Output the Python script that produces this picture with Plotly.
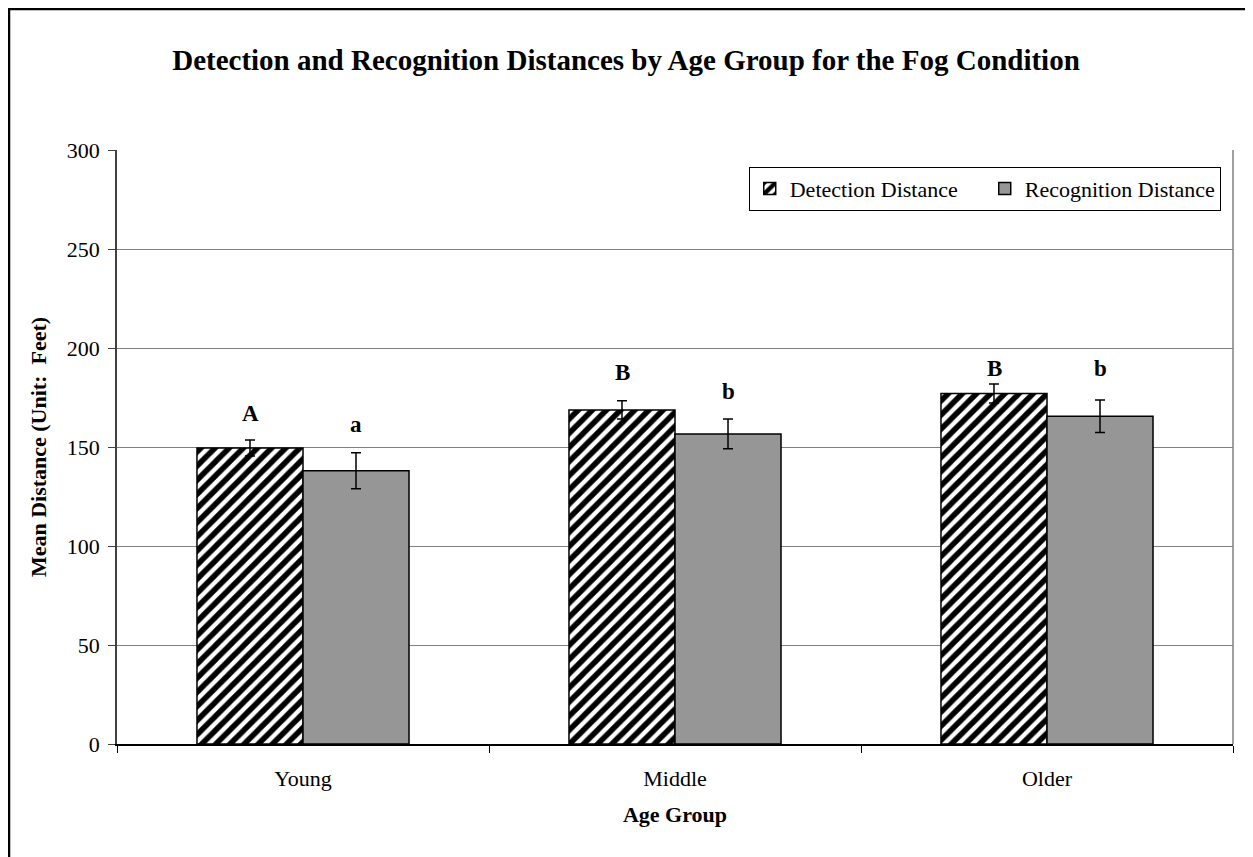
import plotly.graph_objects as go

groups = ["Young", "Middle", "Older"]
detection = [149.5, 168.7, 177.0]
detection_err = [4.0, 4.6, 4.8]
recognition = [138.0, 156.6, 165.5]
recognition_err = [9.1, 7.5, 8.2]
det_letters = ["A", "B", "B"]
rec_letters = ["a", "b", "b"]
det_letter_y = [166.7, 187.4, 189.9]
rec_letter_y = [161.6, 177.8, 189.9]

FONT = "Liberation Serif, Times New Roman, serif"

# page body has an 8px offset; margins compensate
ML, MR, MT, MB = 109, 28, 142, 121
PW, PH = 1253 - ML - MR, 857 - MT - MB

fig = go.Figure()
fig.add_trace(go.Bar(
    name="Detection Distance", x=groups, y=detection,
    marker=dict(color="white", line=dict(color="black", width=1.5),
                pattern=dict(shape="/", fgcolor="black", bgcolor="white", fgopacity=1,
                             size=10, solidity=0.55)),
    error_y=dict(type="data", array=detection_err, color="black", thickness=1.5, width=5),
))
fig.add_trace(go.Bar(
    name="Recognition Distance", x=groups, y=recognition,
    marker=dict(color="#969696", line=dict(color="black", width=1.5)),
    error_y=dict(type="data", array=recognition_err, color="black", thickness=1.5, width=5),
))

for g, t, yv in zip(groups, det_letters, det_letter_y):
    fig.add_annotation(x=g, y=yv, text=f"<b>{t}</b>", showarrow=False, xshift=-53,
                       font=dict(family=FONT, size=23, color="black"))
for g, t, yv in zip(groups, rec_letters, rec_letter_y):
    fig.add_annotation(x=g, y=yv, text=f"<b>{t}</b>", showarrow=False, xshift=53,
                       font=dict(family=FONT, size=23, color="black"))

# outer frame
fig.add_shape(type="rect", xref="paper", yref="paper",
              x0=-(ML - 1) / PW, x1=1.1, y0=-0.3, y1=1 + (MT - 1) / PH,
              line=dict(color="black", width=2.5), fillcolor="rgba(0,0,0,0)", layer="above")
# plot area right border
fig.add_shape(type="line", xref="paper", yref="paper", x0=1, x1=1, y0=0, y1=1,
              line=dict(color="#808080", width=1.5))

fig.update_layout(
    width=1253, height=857,
    margin=dict(l=ML, r=MR, t=MT, b=MB),
    paper_bgcolor="white", plot_bgcolor="white",
    barmode="group", bargap=0.43, bargroupgap=0,
    font=dict(family=FONT, size=22, color="black"),
    title=dict(text="<b>Detection and Recognition Distances by Age Group for the Fog Condition</b>",
               x=(ML + PW / 2 - 49) / 1253, xref="container", xanchor="center",
               y=1 - 52 / 857, yref="container", yanchor="middle",
               font=dict(family=FONT, size=29, color="black")),
    showlegend=True,
    legend=dict(orientation="h", x=0.989, xanchor="right", y=0.972, yanchor="top",
                bordercolor="black", borderwidth=1, bgcolor="white",
                font=dict(family=FONT, size=22, color="black"),
                itemwidth=30, entrywidth=190, entrywidthmode="pixels", traceorder="normal"),
    xaxis=dict(showline=True, linecolor="black", linewidth=1.5, ticks="outside",
               ticklen=7, tickcolor="black", tickson="boundaries", showgrid=False,
               tickfont=dict(family=FONT, size=22), ticklabelstandoff=14,
               title=dict(text="<b>Age Group</b>", font=dict(family=FONT, size=22), standoff=16)),
    yaxis=dict(range=[0, 300], dtick=50, showline=True, linecolor="#404040", linewidth=1.5,
               ticks="outside", ticklen=7, tickcolor="#404040",
               showgrid=True, gridcolor="#808080", gridwidth=1, zeroline=False,
               tickfont=dict(family=FONT, size=22), ticklabelstandoff=4,
               title=dict(text="<b>Mean Distance (Unit:  Feet)</b>", font=dict(family=FONT, size=22), standoff=14)),
)

fig.write_html("out.html")
